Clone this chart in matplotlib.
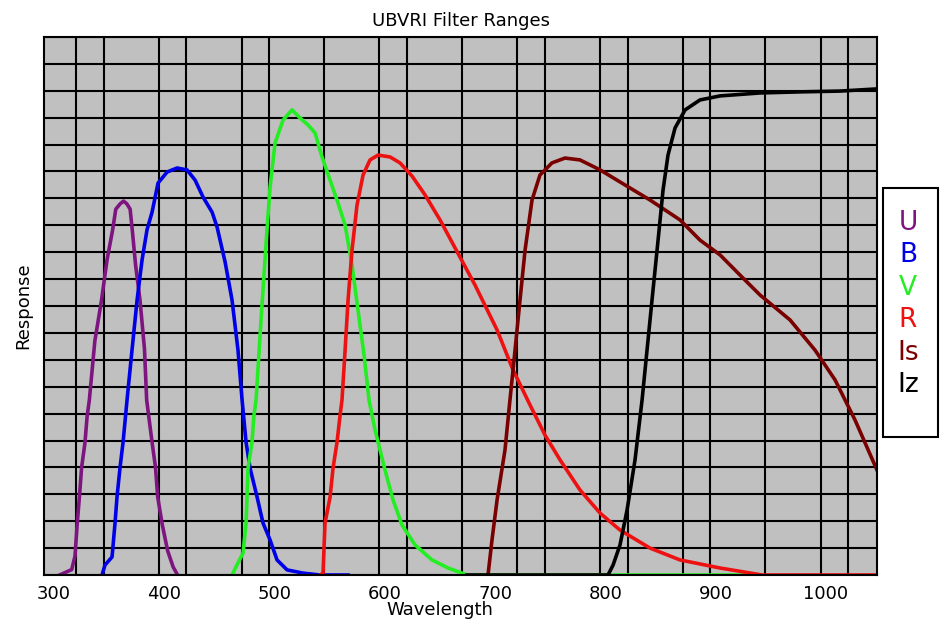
import matplotlib
matplotlib.use("Agg")
import matplotlib.pyplot as plt
from matplotlib.patches import Rectangle
from matplotlib.ticker import FixedLocator, MultipleLocator

# ---------------- data (wavelength in nm, response in grid units) ----------------
u_wl = [305, 316, 319, 321, 323, 325, 328, 330, 332, 337, 343, 348, 353, 356, 360, 363,
        366, 369, 371, 374, 378, 382, 384, 389, 392, 394, 398, 403, 408, 412]
u_resp = [0, 0.2, 0.7, 1.9, 2.9, 4.0, 4.9, 5.9, 6.5, 8.7, 10.2, 11.7, 12.8, 13.6, 13.8, 13.9,
          13.8, 13.6, 12.8, 11.5, 10.2, 8.4, 6.5, 4.9, 4.0, 2.9, 1.9, 0.9, 0.3, 0]

b_wl = [343.5, 346.2, 352.6, 355.3, 357.1, 359.8, 362.6, 366.2, 370.7, 375.3, 379.8, 384.3,
        388.9, 394.3, 402.5, 411.5, 420.6, 427.9, 435.1, 443.3, 447.8, 455.1, 461.4, 466.8,
        470.5, 474.1, 477.7, 484.1, 489.5, 495.9, 502.2, 511.3, 525.8, 541.2, 566.6]
b_resp = [0, 0.37, 0.67, 1.93, 2.90, 3.98, 4.94, 6.51, 8.36, 10.22, 11.71, 12.83,
          13.49, 14.57, 14.98, 15.13, 15.06, 14.68, 14.05, 13.49, 12.94, 11.64, 10.22, 8.36,
          6.51, 4.94, 3.98, 2.90, 1.93, 1.30, 0.56, 0.19, 0.07, 0, 0]

v_wl = [461.4, 466.8, 471.4, 474.1, 475.0, 475.9, 479.5, 481.3, 483.2, 487.7, 493.1, 495.9,
        500.4, 507.6, 515.8, 523.1, 530.3, 536.7, 543.0, 550.3, 557.5, 563.9, 570.2, 575.6,
        581.1, 585.6, 591.1, 600.1, 607.4, 615.5, 627.3, 642.7, 657.3, 674.5, 928.4]
v_resp = [0, 0.45, 0.82, 1.93, 2.90, 3.98, 4.94, 5.95, 6.51, 9.48, 12.83, 14.42,
          16.06, 16.91, 17.29, 16.99, 16.73, 16.43, 15.54, 14.68, 13.83, 13.01, 11.52, 9.85,
          8.18, 6.51, 5.39, 3.90, 2.79, 1.86, 1.12, 0.56, 0.26, 0, 0]

r_wl = [541.2, 543.9, 545.7, 550.3, 553.0, 556.6, 559.4, 561.1, 563.9, 566.6, 570.2, 574.7,
        580.2, 586.5, 593.8, 604.7, 613.7, 624.6, 636.4, 650.0, 663.6, 681.7, 701.7, 716.2,
        731.6, 745.2, 758.8, 776.9, 795.1, 813.2, 840.4, 867.6, 903.9, 942.0, 1046.2]
r_resp = [0, 0.07, 1.93, 2.90, 3.98, 4.94, 5.95, 6.51, 8.36, 10.22, 12.08, 13.75,
          14.87, 15.43, 15.61, 15.54, 15.32, 14.83, 14.13, 13.20, 12.16, 10.78, 9.11, 7.62,
          6.32, 5.20, 4.28, 3.16, 2.30, 1.67, 1.00, 0.56, 0.26, 0, 0]

is_wl = [693.5, 697.1, 701.7, 708.9, 713.4, 718.0, 722.5, 727.1, 733.4, 740.6, 751.5, 763.3,
         776.9, 795.1, 817.7, 840.4, 867.6, 885.7, 903.9, 922.0, 940.1, 967.4, 990.0, 1008.2,
         1026.3, 1046.2]
is_resp = [0, 1.30, 2.79, 4.65, 6.51, 8.36, 10.22, 12.08, 13.94, 14.87, 15.32, 15.50,
           15.43, 15.06, 14.50, 13.94, 13.20, 12.45, 11.90, 11.15, 10.41, 9.48, 8.36, 7.25,
           5.76, 3.90]

iz_wl = [674.5, 802.3, 806.9, 813.2, 819.6, 826.8, 833.2, 838.6, 843.1, 847.7, 852.2, 856.7,
         863.1, 872.2, 885.7, 903.9, 940.1, 976.4, 1012.7, 1046.2]
iz_resp = [0, 0, 0.37, 1.12, 2.42, 4.28, 6.51, 8.74, 10.59, 12.45, 14.31, 15.61,
           16.62, 17.29, 17.66, 17.81, 17.92, 17.96, 17.99, 18.07]

series_names = ["U", "B", "V", "R", "Is", "Iz"]
series_colors = ["#7d1480", "#0000e6", "#22ee22", "#ee1111", "#7a0000", "#000000"]
series_x = [u_wl, b_wl, v_wl, r_wl, is_wl, iz_wl]
series_y = [u_resp, b_resp, v_resp, r_resp, is_resp, iz_resp]

tick_values = [300, 400, 500, 600, 700, 800, 900, 1000]
tick_labels = ["300", "400", "500", "600", "700", "800", "900", "1000"]
grid_x = [320, 345, 395, 420, 470, 495, 545, 595, 620, 670, 720, 745, 795, 820,
          870, 895, 945, 995, 1020]

# ---------------- figure ----------------
W, H = 943, 622
fig = plt.figure(figsize=(W / 100, H / 100), dpi=100)
fig.patch.set_facecolor("white")
L, R, T, B = 44, 877, 37, 575
ax = fig.add_axes([L / W, 1 - B / H, (R - L) / W, (B - T) / H])
ax.set_facecolor("#c0c0c0")

ax.set_xlim(290.9, 1046.2)
ax.set_ylim(0, 20)

ax.xaxis.set_major_locator(FixedLocator(tick_values))
ax.set_xticklabels(tick_labels)
ax.xaxis.set_minor_locator(FixedLocator(grid_x))
ax.yaxis.set_major_locator(MultipleLocator(1))
ax.tick_params(which="both", length=0)
ax.tick_params(axis="x", labelsize=13, pad=7)
ax.tick_params(axis="y", labelleft=False)
ax.grid(which="minor", axis="x", color="black", linewidth=1.5)
ax.grid(which="major", axis="y", color="black", linewidth=1.5)
ax.set_axisbelow(True)
for s in ax.spines.values():
    s.set_linewidth(1.5)
    s.set_color("black")

for xs, ys, c in zip(series_x, series_y, series_colors):
    ax.plot(xs, ys, color=c, linewidth=2.6, solid_joinstyle="round")

ax.set_title("UBVRI Filter Ranges", fontsize=13, pad=8)
ax.set_xlabel("Wavelength", fontsize=13)
ax.xaxis.set_label_coords((440 - L) / (R - L), -(601 - B) / (B - T))
ax.set_ylabel("Response", fontsize=13)
ax.yaxis.set_label_coords((23 - L) / (R - L), 0.5)
ax.yaxis.label.set_va("center")

# legend box with coloured names
fig.patches.append(Rectangle((883 / W, 1 - 437 / H), 55 / W, (437 - 188) / H,
                             transform=fig.transFigure, facecolor="white",
                             edgecolor="black", linewidth=1.5))
for i, (name, c) in enumerate(zip(series_names, series_colors)):
    fig.text(908 / W, 1 - (223 + i * 32.4) / H, name, color=c, fontsize=19,
             ha="center", va="center")

fig.savefig("out.png", dpi=100)
